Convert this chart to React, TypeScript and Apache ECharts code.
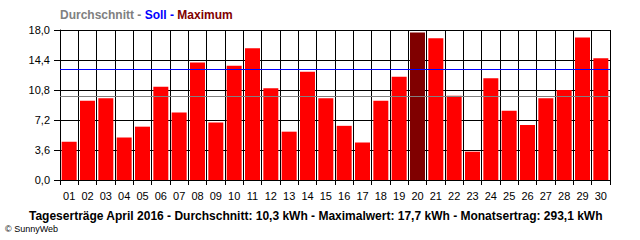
import React, { useEffect, useRef } from "react";
import * as echarts from "echarts";

const days = ["01","02","03","04","05","06","07","08","09","10","11","12","13","14","15","16","17","18","19","20","21","22","23","24","25","26","27","28","29","30"];
const dailyYield = [4.6, 9.5, 9.8, 5.1, 6.4, 11.2, 8.1, 14.1, 6.9, 13.7, 15.8, 11.0, 5.8, 13.0, 9.8, 6.5, 4.5, 9.5, 12.4, 17.7, 17.0, 10.1, 3.4, 12.2, 8.3, 6.6, 9.8, 10.8, 17.1, 14.6];
const averageLine = 10.1;
const targetLine = 13.3;
const yMin = 0;
const yMax = 18;
const yStep = 3.6;
const legendParts = ["Durchschnitt - ", "Soll - ", "Maximum"];
const footerText = "Tageserträge April 2016 - Durchschnitt: 10,3 kWh - Maximalwert: 17,7 kWh - Monatsertrag: 293,1 kWh";
const copyrightText = "© SunnyWeb";

const FONT = "'Liberation Sans', Arial, sans-serif";

export default function App() {
  const ref = useRef<HTMLDivElement>(null);
  useEffect(() => {
    if (!ref.current) return;
    const chart = echarts.init(ref.current, null, { renderer: "svg" });
    const maxVal = Math.max(...dailyYield);
    const maxIdx = dailyYield.indexOf(maxVal);
    chart.setOption({
      animation: false,
      backgroundColor: "#ffffff",
      textStyle: { fontFamily: FONT },
      grid: { left: 60, right: 30, top: 30, bottom: 60, containLabel: false },
      title: {
        left: 60,
        top: 9,
        padding: 0,
        text: `{a|${legendParts[0]}}{b|${legendParts[1]}}{c|${legendParts[2]}}`,
        textStyle: {
          fontFamily: FONT,
          fontSize: 12,
          fontWeight: "bold",
          rich: {
            a: { color: "#808080", fontFamily: FONT, fontSize: 12, fontWeight: "bold" },
            b: { color: "#0000ff", fontFamily: FONT, fontSize: 12, fontWeight: "bold" },
            c: { color: "#800000", fontFamily: FONT, fontSize: 12, fontWeight: "bold" },
          },
        },
      },
      graphic: [
        {
          type: "text",
          left: 29,
          top: 210,
          style: { text: footerText, fill: "#000", font: `bold 12px ${FONT}` },
        },
        {
          type: "text",
          left: 5,
          top: 224,
          style: { text: copyrightText, fill: "#000", font: `9px ${FONT}` },
        },
      ],
      xAxis: {
        type: "category",
        data: days,
        boundaryGap: true,
        axisLine: { show: true, lineStyle: { color: "#000", width: 1 } },
        axisTick: { show: true, length: 5, lineStyle: { color: "#000" } },
        axisLabel: { color: "#000", fontSize: 11, margin: 10, fontFamily: FONT, interval: 0 },
        splitLine: { show: true, interval: 0, lineStyle: { color: "#000", width: 1 } },
      },
      yAxis: {
        type: "value",
        min: yMin,
        max: yMax,
        interval: yStep,
        axisLine: { show: true, lineStyle: { color: "#000", width: 1 } },
        axisTick: { show: true, length: 6, lineStyle: { color: "#000" } },
        axisLabel: {
          color: "#000",
          fontSize: 11,
          margin: 10,
          fontFamily: FONT,
          formatter: (v: number) => v.toFixed(1).replace(".", ","),
        },
        splitLine: { show: true, lineStyle: { color: "#000", width: 1 } },
      },
      series: [
        {
          type: "bar",
          data: dailyYield.map((v, i) => ({
            value: v,
            itemStyle: { color: i === maxIdx ? "#800000" : "#ff0000" },
          })),
          barWidth: 15,
          markLine: {
            silent: true,
            symbol: "none",
            label: { show: false },
            data: [
              { yAxis: averageLine, lineStyle: { color: "#808080", width: 1, type: "solid" } },
              { yAxis: targetLine, lineStyle: { color: "#0000ff", width: 1, type: "solid" } },
            ],
          },
        },
      ],
    });
    return () => chart.dispose();
  }, []);
  return <div ref={ref} style={{ position: "absolute", left: 0, top: 0, width: 640, height: 240 }} />;
}
